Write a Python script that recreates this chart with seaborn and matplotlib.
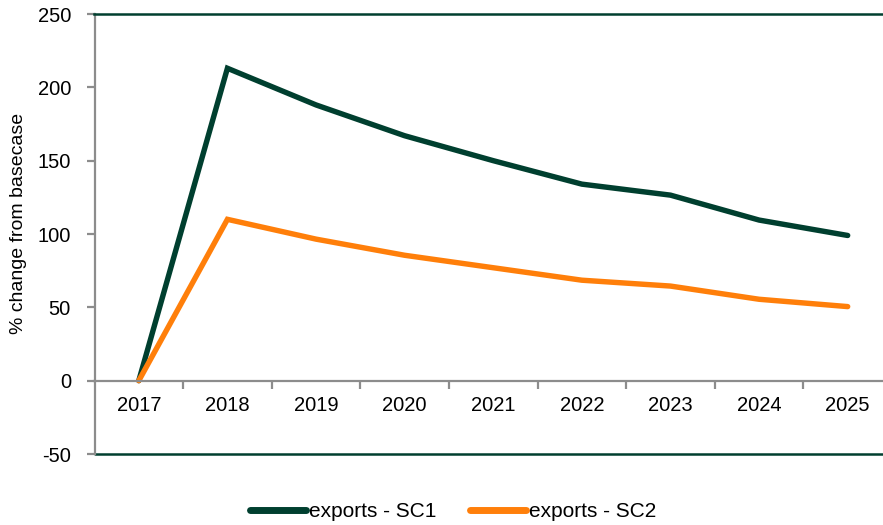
import numpy as np
import pandas as pd
import matplotlib
matplotlib.use('Agg')
import matplotlib.pyplot as plt
import seaborn as sns
from matplotlib.ticker import FixedLocator

# data
years = ['2017', '2018', '2019', '2020', '2021', '2022', '2023', '2024', '2025']
sc1 = [0, 213, 188, 167, 150, 134, 126.5, 109.5, 99]
sc2 = [0, 110, 96.5, 85.5, 77, 68.5, 64.5, 55.5, 50.5]
series_names = ['exports - SC1', 'exports - SC2']

dark_green = '#003F2F'
orange = '#FF7F0A'
grey = '#8C8C8C'

df = pd.DataFrame({
    'Year': years * 2,
    'Change': sc1 + sc2,
    'Series': [series_names[0]] * len(years) + [series_names[1]] * len(years),
})

sns.set_theme(style='white')
plt.rcParams['font.family'] = ['Liberation Sans', 'DejaVu Sans']
plt.rcParams['axes.unicode_minus'] = False
plt.rcParams['text.color'] = 'black'

fig = plt.figure(figsize=(8.83, 5.25), dpi=100)
ax = fig.add_axes([94.5 / 883, 71 / 525, 797.5 / 883, 440 / 525])

sns.lineplot(data=df, x='Year', y='Change', hue='Series', sort=False,
             palette=[dark_green, orange], linewidth=3.9, ax=ax, legend=False,
             solid_capstyle='round', solid_joinstyle='miter')

ax.set_xlim(-0.5, len(years) - 0.5)
ax.set_ylim(-50, 250)
ax.set_yticks(range(-50, 251, 50))

# zero line carries the category labels
ax.spines['bottom'].set_position(('data', 0))
ax.spines['bottom'].set_color(grey)
ax.spines['bottom'].set_linewidth(1.6)
ax.spines['left'].set_color(grey)
ax.spines['left'].set_linewidth(1.6)
ax.spines['right'].set_visible(False)
ax.spines['top'].set_color(dark_green)
ax.spines['top'].set_linewidth(1.8)
ax.axhline(-50, color=dark_green, linewidth=1.8, clip_on=False, zorder=0)

ax.xaxis.set_minor_locator(FixedLocator(np.arange(0.5, len(years), 1.0)))
ax.tick_params(axis='x', which='major', length=0, pad=11, labelsize=14.5, colors='black')
ax.tick_params(axis='x', which='minor', bottom=True, length=6, width=1.6, direction='out', color=grey)
ax.tick_params(axis='y', left=True, length=6, width=1.6, direction='out', color=grey, pad=11,
               labelsize=14.5, labelcolor='black')

ax.set_xlabel('')
ax.set_ylabel('% change from basecase', fontsize=14, color='black')
ax.yaxis.set_label_coords(-0.085, 0.523)

handles = [plt.Line2D([], [], color=dark_green, linewidth=5, solid_capstyle='round'),
           plt.Line2D([], [], color=orange, linewidth=5, solid_capstyle='round')]
fig.legend(handles, series_names, loc='center', bbox_to_anchor=(0.513, 0.025), ncol=2,
           frameon=False, fontsize=15, handlelength=2.7, handletextpad=0.15, columnspacing=1.6,
           labelcolor='black')

fig.savefig('out.png', dpi=100, facecolor='white')
